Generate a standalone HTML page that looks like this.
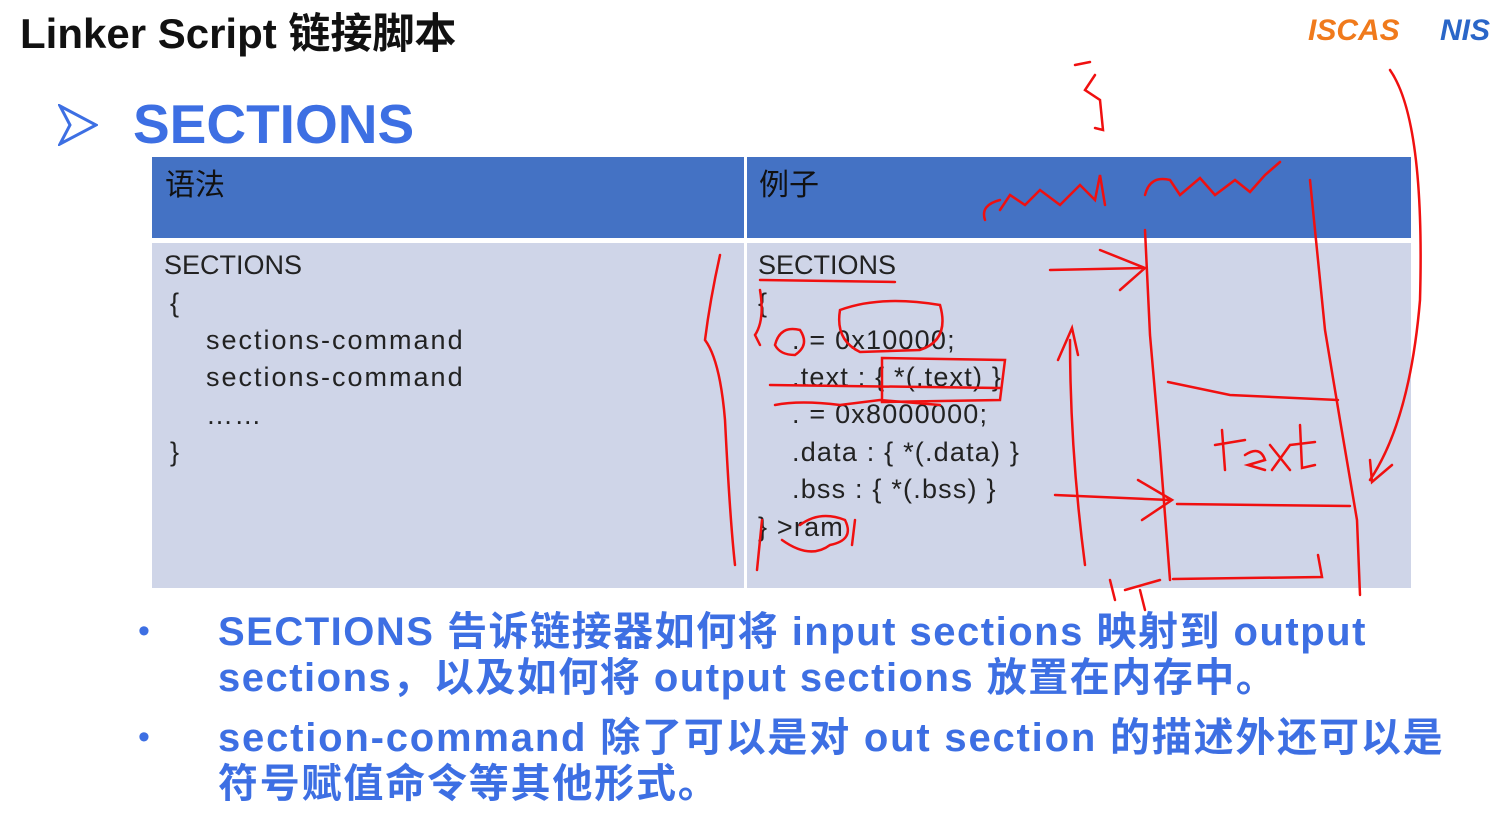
<!DOCTYPE html>
<html><head><meta charset="utf-8"><style>
body{margin:0;width:1503px;height:814px;background:#fff;position:relative;overflow:hidden;font-family:"Liberation Sans","Noto Sans CJK SC",sans-serif;}
.a{position:absolute;white-space:nowrap;}
.code{font-size:27px;color:#222;letter-spacing:1.2px;}
.bl{color:#3d6fe3;font-weight:bold;font-size:40px;line-height:46px;letter-spacing:1.5px;}
</style></head><body>
<div class="a" style="left:20px;top:0px;font-size:42px;font-weight:bold;color:#111;">Linker Script 链接脚本</div>
<div class="a" style="left:1308px;top:14px;font-size:30px;font-weight:bold;font-style:italic;color:#f07a1c;">ISCAS</div>
<div class="a" style="left:1440px;top:14px;font-size:30px;font-weight:bold;font-style:italic;color:#2a66c8;">NIS</div>
<svg class="a" style="left:58px;top:104px" width="40" height="42"><polygon points="2,2 38,21 2,40 12,21" fill="none" stroke="#3d6fe3" stroke-width="3"/></svg>
<div class="a" style="left:133px;top:92px;font-size:55px;font-weight:bold;color:#3d6fe3;">SECTIONS</div>
<div class="a" style="left:152px;top:157px;width:592px;height:81px;background:#4472c4;"></div>
<div class="a" style="left:747px;top:157px;width:664px;height:81px;background:#4472c4;"></div>
<div class="a" style="left:152px;top:243px;width:592px;height:345px;background:#cfd5e8;"></div>
<div class="a" style="left:747px;top:243px;width:664px;height:345px;background:#cfd5e8;"></div>
<div class="a" style="left:165px;top:160px;font-size:30px;color:#111;">语法</div>
<div class="a" style="left:759px;top:160px;font-size:30px;color:#111;">例子</div>
<div class="a code" style="left:164px;top:250px;letter-spacing:0">SECTIONS</div>
<div class="a code" style="left:170px;top:288px;">{</div>
<div class="a code" style="left:206px;top:325px;letter-spacing:2px">sections-command</div>
<div class="a code" style="left:206px;top:362px;letter-spacing:2px">sections-command</div>
<div class="a code" style="left:206px;top:400px;">……</div>
<div class="a code" style="left:170px;top:437px;">}</div>
<div class="a code" style="left:758px;top:250px;letter-spacing:0">SECTIONS</div>
<div class="a code" style="left:758px;top:288px;">{</div>
<div class="a code" style="left:792px;top:325px;">. = 0x10000;</div>
<div class="a code" style="left:792px;top:362px;">.text : { *(.text) }</div>
<div class="a code" style="left:792px;top:399px;">. = 0x8000000;</div>
<div class="a code" style="left:792px;top:437px;">.data : { *(.data) }</div>
<div class="a code" style="left:792px;top:474px;">.bss : { *(.bss) }</div>
<div class="a code" style="left:758px;top:512px;">} &gt;ram</div>
<div class="a" style="left:138px;top:612px;font-size:34px;color:#3d6fe3;">•</div>
<div class="a bl" style="left:218px;top:609px;">SECTIONS 告诉链接器如何将 input sections 映射到 output<br>sections，以及如何将 output sections 放置在内存中。</div>
<div class="a" style="left:138px;top:718px;font-size:34px;color:#3d6fe3;">•</div>
<div class="a bl" style="left:218px;top:715px;letter-spacing:1.8px">section-command 除了可以是对 out section 的描述外还可以是<br>符号赋值命令等其他形式。</div>
<svg class="a" style="left:0;top:0" width="1503" height="814" fill="none" stroke="#f01010" stroke-width="2.5" stroke-linecap="round">
<path d="M1075,65 L1090,62 M1095,75 L1085,90 L1100,100 L1103,130 L1095,128"/>
<path d="M1390,70 Q1425,120 1420,300 Q1410,420 1370,480 M1370,460 L1372,482 L1392,465"/>
<path d="M720,255 Q710,300 705,340 Q720,360 725,420 Q730,520 735,565"/>
<path d="M985,220 Q980,205 1000,200 M1000,210 L1010,195 L1025,205 L1040,190 L1060,205 L1080,185 L1095,200 L1100,175 L1105,205 M1145,195 Q1150,175 1170,180 L1180,195 L1200,178 L1215,195 L1235,180 L1250,192 L1265,175 L1280,162"/>
<path d="M1145,230 L1150,335 L1160,450 L1170,580 M1310,180 L1325,330 L1340,420 L1357,520 L1360,595"/>
<path d="M1168,382 L1230,395 L1338,400 M1177,504 L1350,506 M1173,579 L1322,577 L1318,555"/>
<path d="M1050,270 L1145,268 M1100,250 L1145,268 L1120,290"/>
<path d="M1055,495 L1170,500 M1138,480 L1172,500 L1142,520"/>
<path d="M1085,565 Q1070,450 1070,340 M1058,360 L1072,328 L1078,355"/>
<path d="M1222,430 L1225,470 M1215,445 L1245,440 M1245,455 Q1260,445 1265,460 L1248,465 L1265,470 M1270,445 L1290,470 M1290,445 L1272,470 M1300,425 L1302,468 L1315,465 M1290,445 L1315,442"/>
<path d="M775,345 Q780,325 800,330 Q810,345 795,355 Q780,355 775,345 M840,310 Q880,295 940,305 Q950,340 920,350 L860,352 Q835,340 840,310"/>
<path d="M770,385 L1000,388 M775,405 Q800,400 840,405 L880,400 L940,405 M882,358 L1005,360 L1000,400 L882,402 Z"/>
<path d="M760,290 Q765,320 755,335 L760,345 M762,520 L757,570 M760,280 L895,282 M782,540 Q810,560 830,545 Q855,540 845,520 Q820,510 800,525 M855,520 L852,545"/>
<path d="M1110,580 L1115,600 M1125,590 L1160,580 M1140,590 L1145,610"/>
</svg>
</body></html>
